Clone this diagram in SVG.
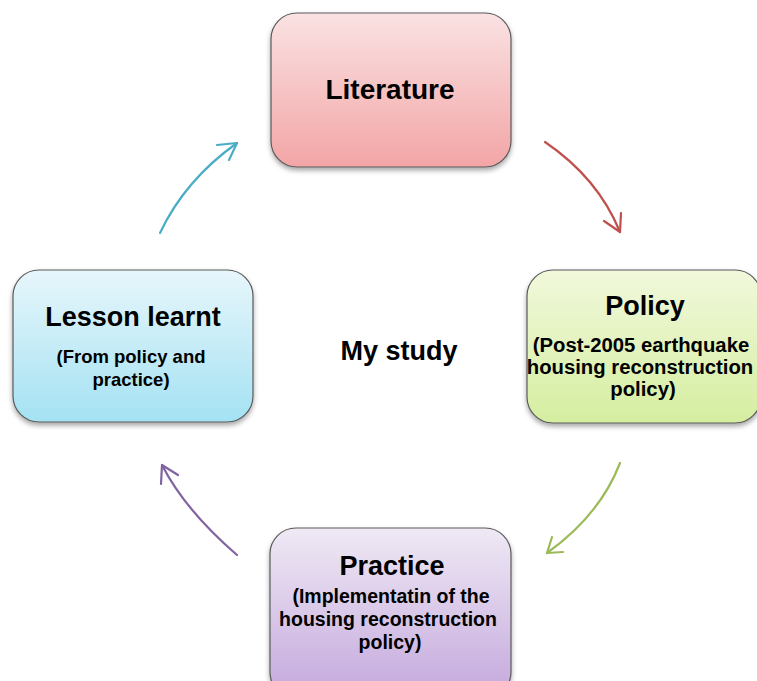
<svg xmlns="http://www.w3.org/2000/svg" width="757" height="681" viewBox="0 0 757 681">
<style>
.box{stroke:#5a5a5a;stroke-width:1.2;filter:url(#sh)}
.t{font-family:"Liberation Sans",Arial,sans-serif;font-weight:bold;fill:#000;text-anchor:middle}
.title{font-size:27px}
.sub{font-size:19.5px}
.arr{fill:none;stroke-width:2.2;stroke-linecap:round;stroke-linejoin:round}
</style>
<defs>
<filter id="sh" x="-10%" y="-10%" width="120%" height="130%">
<feDropShadow dx="0" dy="3" stdDeviation="2.5" flood-color="#000" flood-opacity="0.35"/>
</filter>
<linearGradient id="gR" x1="0" y1="0" x2="0" y2="1"><stop offset="0" stop-color="#fae2e3"/><stop offset="1" stop-color="#f3a5a6"/></linearGradient>
<linearGradient id="gG" x1="0" y1="0" x2="0" y2="1"><stop offset="0" stop-color="#f1f8dc"/><stop offset="1" stop-color="#d5eea0"/></linearGradient>
<linearGradient id="gB" x1="0" y1="0" x2="0" y2="1"><stop offset="0" stop-color="#e7f6fb"/><stop offset="1" stop-color="#a4e2f3"/></linearGradient>
<linearGradient id="gP" x1="0" y1="0" x2="0" y2="1"><stop offset="0" stop-color="#efe9f4"/><stop offset="1" stop-color="#c4a8dd"/></linearGradient>
</defs>
<rect width="757" height="681" fill="#fff"/>
<g id="connectors">
<g><path class="arr" stroke="#c0504d" d="M545,142 Q598,178 620,232"/><path class="arr" stroke="#c0504d" d="M604,221 L620,232 L621,213"/></g>
<g><path class="arr" stroke="#9bbb59" d="M620,463 Q600,515 547,553"/><path class="arr" stroke="#9bbb59" d="M552,537 L547,553 L563,552"/></g>
<g><path class="arr" stroke="#8064a2" d="M237,555 Q185,510 162,465"/><path class="arr" stroke="#8064a2" d="M161,484 L162,465 L178,475"/></g>
<g><path class="arr" stroke="#4bacc6" d="M160,233 Q185,180 237,143"/><path class="arr" stroke="#4bacc6" d="M217,145 L237,143 L229,160"/></g>
</g>
<g id="literature">
<rect class="box" x="271" y="13" width="240" height="154" rx="26" fill="url(#gR)"/>
<text class="t title" x="390" y="99" style="font-size:28px">Literature</text>
</g>
<g id="policy">
<rect class="box" x="527" y="270" width="234" height="153" rx="26" fill="url(#gG)"/>
<text class="t title" x="645" y="315">Policy</text>
<text class="t sub" x="641" y="352" style="font-size:20.3px">(Post-2005 earthquake</text>
<text class="t sub" x="640" y="374" style="font-size:20.3px">housing reconstruction</text>
<text class="t sub" x="643" y="396" style="font-size:20.3px">policy)</text>
</g>
<g id="lesson">
<rect class="box" x="13" y="270" width="240" height="152" rx="26" fill="url(#gB)"/>
<text class="t title" x="133" y="326">Lesson learnt</text>
<text class="t sub" x="131" y="363" style="font-size:18.5px">(From policy and</text>
<text class="t sub" x="131" y="386" style="font-size:18.5px">practice)</text>
</g>
<g id="practice">
<rect class="box" x="270" y="528" width="241" height="170" rx="26" fill="url(#gP)"/>
<text class="t title" x="392" y="575">Practice</text>
<text class="t sub" x="391" y="603">(Implementatin of the</text>
<text class="t sub" x="388" y="626">housing reconstruction</text>
<text class="t sub" x="390" y="649">policy)</text>
</g>
<g id="mystudy">
<text class="t" x="399" y="360" style="font-size:27px">My study</text>
</g>
</svg>
